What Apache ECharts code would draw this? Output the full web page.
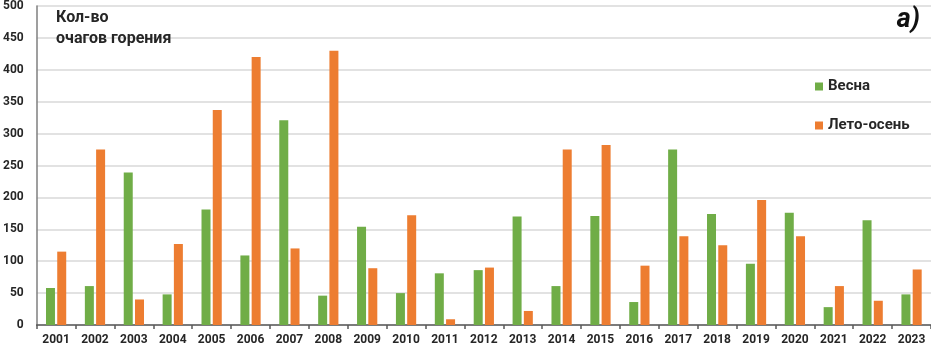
<!DOCTYPE html>
<html>
<head>
<meta charset="utf-8">
<script src="https://cdn.jsdelivr.net/npm/echarts@6/dist/echarts.min.js"></script>
<style>
	html, body { margin: 0; padding: 0; background: #ffffff; }
	#chart { width: 931px; height: 349px; }
</style>
</head>
<body>
<div id="chart"></div>
<script>
// годы
var years = ['2001', '2002', '2003', '2004', '2005', '2006', '2007', '2008', '2009', '2010', '2011', '2012',
	'2013', '2014', '2015', '2016', '2017', '2018', '2019', '2020', '2021', '2022', '2023'];
// весна
var springValues = [58, 61, 239, 48, 181, 109, 321, 46, 154, 50, 81, 86,
	170, 61, 171, 36, 275, 174, 96, 176, 28, 164, 48];
// лето-осень
var summerValues = [115, 275, 40, 127, 337, 420, 120, 430, 89, 172, 9, 90,
	22, 275, 282, 93, 139, 125, 196, 139, 61, 38, 87];
var seriesNames = ['Весна', 'Лето-осень'];
var yTitle = 'Кол-во\nочагов горения';
var panelLabel = 'а)';

var myChart = echarts.init(document.getElementById('chart'));
var font = 'Roboto';
var option = {
	animation: false,
	textStyle: { fontFamily: font },
	title: [{
		text: yTitle,
		left: 51,
		top: 2,
		textStyle: { fontSize: 16, fontWeight: 'bold', color: '#262626', lineHeight: 21, fontFamily: font }
	}, {
		text: panelLabel,
		right: 6,
		top: 2,
		textStyle: { fontSize: 27, fontWeight: 'bold', fontStyle: 'italic', color: '#111111', fontFamily: font }
	}],
	legend: {
		orient: 'vertical',
		left: 810,
		top: 74,
		itemWidth: 8,
		itemHeight: 8,
		itemGap: 24,
		icon: 'rect',
		textStyle: { fontSize: 15, fontWeight: 'bold', color: '#262626', fontFamily: font }
	},
	grid: {
		left: 36,
		right: 0,
		top: 6,
		bottom: 24
	},
	xAxis: {
		type: 'category',
		data: years,
		axisLine: { lineStyle: { color: '#595959', width: 1.5 } },
		axisTick: { show: true, length: 4, lineStyle: { color: '#595959', width: 1.5 } },
		axisLabel: { fontSize: 12, fontWeight: 'bold', color: '#262626', margin: 9, interval: 0 }
	},
	yAxis: {
		type: 'value',
		min: 0,
		max: 500,
		interval: 50,
		axisLine: { show: true, lineStyle: { color: '#7f7f7f', width: 1.5 } },
		axisTick: { show: false },
		splitLine: { lineStyle: { color: '#d9d9d9', width: 1.5 } },
		axisLabel: { fontSize: 12, fontWeight: 'bold', color: '#262626', margin: 13 }
	},
	series: [{
		name: seriesNames[0],
		type: 'bar',
		data: springValues,
		barWidth: 9,
		barGap: '25%',
		itemStyle: { color: '#70AD47' }
	}, {
		name: seriesNames[1],
		type: 'bar',
		data: summerValues,
		barWidth: 9,
		barGap: '25%',
		itemStyle: { color: '#ED7D31' }
	}]
};
myChart.setOption(option);
</script>
</body>
</html>
